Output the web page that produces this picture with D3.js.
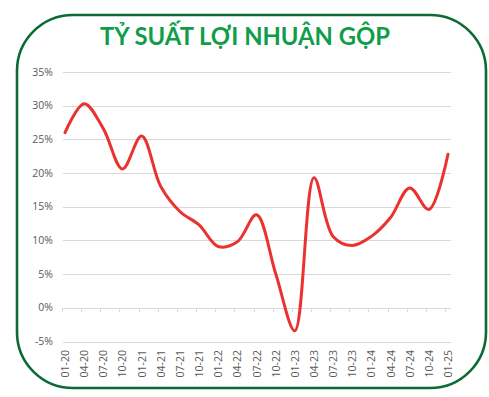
<!DOCTYPE html>
<html><head><meta charset="utf-8">
<script src="https://cdn.jsdelivr.net/npm/d3@7"></script>
<style>html,body{margin:0;padding:0;background:#fff}svg{display:block}</style>
</head><body>
<svg id="c" width="489" height="397"></svg>
<script>
const title = "TỶ SUẤT LỢI NHUẬN GỘP";
const categories = ["01-20","04-20","07-20","10-20","01-21","04-21","07-21","10-21","01-22","04-22","07-22","10-22","01-23","04-23","07-23","10-23","01-24","04-24","07-24","10-24","01-25"];
const margin = [26.0,30.3,26.6,20.6,25.5,18.0,14.3,12.3,9.1,9.8,13.8,5.1,-3.4,19.3,10.6,9.25,10.6,13.4,17.8,14.6,22.8];
const yTicks = [-5,0,5,10,15,20,25,30,35];

const svg = d3.select("#c");
// frame
svg.append("rect").attr("x",17).attr("y",15).attr("width",469).attr("height",373)
  .attr("rx",56).attr("ry",56).attr("fill","none").attr("stroke","#0b6b35").attr("stroke-width",2.6);

svg.append("text").attr("x",245).attr("y",45).attr("text-anchor","middle")
  .attr("font-family","Lato, 'Open Sans', sans-serif").attr("font-weight","bold")
  .attr("font-size",24).attr("fill","#0f9d49").attr("textLength",290).attr("lengthAdjust","spacingAndGlyphs")
  .text(title);

const x = d3.scalePoint().domain(categories).range([65,448]);
const y = d3.scaleLinear().domain([-5,35]).range([341.5,72]);

// gridlines
svg.append("g").selectAll("line").data(yTicks).join("line")
  .attr("x1",63).attr("x2",451).attr("y1",d=>Math.round(y(d))+0.5).attr("y2",d=>Math.round(y(d))+0.5)
  .attr("stroke","#d9d9d9").attr("stroke-width",1);

// y labels
svg.append("g").selectAll("text").data(yTicks).join("text")
  .attr("x",53).attr("y",d=>y(d)).attr("dy","0.35em").attr("text-anchor","end")
  .attr("font-family","'Open Sans', sans-serif").attr("font-size",10.5).attr("fill","#595959")
  .text(d=>d+"%");

// x ticks at zero line
svg.append("g").selectAll("line").data(categories).join("line")
  .attr("x1",d=>Math.round(x(d)-3)+0.5).attr("x2",d=>Math.round(x(d)-3)+0.5)
  .attr("y1",Math.round(y(0))).attr("y2",Math.round(y(0))+4)
  .attr("stroke","#d9d9d9").attr("stroke-width",1);

// x labels
svg.append("g").selectAll("text").data(categories).join("text")
  .attr("transform",d=>`translate(${x(d)+4},350) rotate(-90)`).attr("text-anchor","end")
  .attr("font-family","'Open Sans', sans-serif").attr("font-size",10.5).attr("fill","#595959")
  .text(d=>d);

// line
const line = d3.line().x((d,i)=>x(categories[i])).y(d=>y(d)).curve(d3.curveCatmullRom.alpha(0.5));
svg.append("path").datum(margin).attr("d",line).attr("fill","none")
  .attr("stroke","#ea3330").attr("stroke-width",3).attr("stroke-linejoin","round").attr("stroke-linecap","round");
</script>
</body></html>
